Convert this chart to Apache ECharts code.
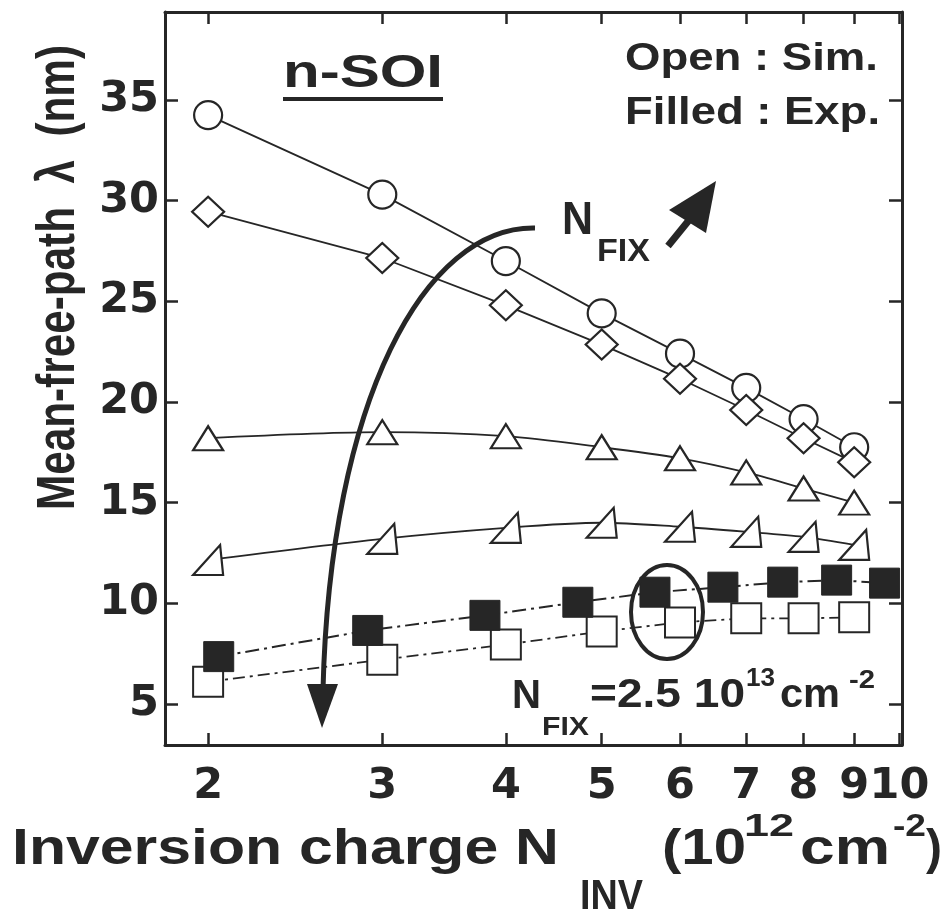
<!DOCTYPE html>
<html>
<head>
<meta charset="utf-8">
<script src="https://cdn.jsdelivr.net/npm/echarts@6/dist/echarts.min.js"></script>
<style>
  html, body { margin: 0; padding: 0; background: #fff; }
  #chart { width: 946px; height: 916px; }
</style>
</head>
<body>
<div id="chart"></div>
<script>
// Inversion charge N_INV (10^12 cm^-2) of the simulated points
const nInvSim = [2, 3, 4, 5, 6, 7, 8, 9];
// Simulated mean-free-path (nm), one array per fixed-charge level (open symbols)
const simCircle   = [34.25, 30.3, 27.0, 24.4, 22.4, 20.7, 19.15, 17.75];
const simDiamond  = [29.45, 27.15, 24.8, 22.85, 21.15, 19.6, 18.2, 17.0];
const simTriangle = [18.2, 18.5, 18.3, 17.75, 17.2, 16.5, 15.7, 15.0];
const simWedge    = [12.15, 13.2, 13.75, 14.0, 13.8, 13.55, 13.3, 12.9];
const simSquare   = [6.1, 7.2, 7.95, 8.6, 9.05, 9.25, 9.25, 9.3];
// Experimental points (filled squares)
const nInvExp   = [2.05, 2.9, 3.81, 4.73, 5.66, 6.63, 7.62, 8.64, 9.66];
const expSquare = [7.35, 8.65, 9.4, 10.05, 10.55, 10.8, 11.05, 11.15, 11.0];
// Axis ticks
const xTicks = [2, 3, 4, 5, 6, 7, 8, 9, 10];
const yTicks = [5, 10, 15, 20, 25, 30, 35];

const INK = '#262626';
const TEXT_FONT = '"Liberation Sans", Arial, sans-serif';
const TICK_FONT = '"DejaVu Sans", sans-serif';

const X_MIN = 1.809, X_MAX = 10.06;
const Y_MIN = 2.96, Y_MAX = 39.37;

const chart = echarts.init(document.getElementById('chart'), null, { renderer: 'canvas' });

function pairs(xs, ys) { return xs.map((x, i) => [x, ys[i]]); }

function xAxisDef(position, showLabel) {
  return {
    type: 'log', logBase: 10, position, min: X_MIN, max: X_MAX,
    axisLine: { show: true, lineStyle: { color: INK, width: 3 } },
    axisTick: { show: true, inside: true, length: 12, customValues: xTicks, lineStyle: { color: INK, width: 2.5 } },
    minorTick: { show: false },
    splitLine: { show: false },
    axisLabel: {
      show: showLabel, customValues: xTicks, margin: 20,
      fontFamily: TICK_FONT, fontWeight: 'bold', fontSize: 43, color: INK,
      formatter: v => String(Math.round(v))
    }
  };
}
function yAxisDef(position, showLabel) {
  return {
    type: 'value', position, min: Y_MIN, max: Y_MAX,
    axisLine: { show: true, lineStyle: { color: INK, width: 3 } },
    axisTick: { show: true, inside: true, length: 13, customValues: yTicks, lineStyle: { color: INK, width: 2.5 } },
    splitLine: { show: false },
    axisLabel: {
      show: showLabel, customValues: yTicks, margin: 6,
      fontFamily: TICK_FONT, fontWeight: 'bold', fontSize: 43, color: INK,
      formatter: v => String(Math.round(v))
    }
  };
}

function openSeries(name, ys, symbol, size, smooth) {
  return {
    name, type: 'line', data: pairs(nInvSim, ys), smooth: smooth || false,
    symbol, symbolSize: size, showAllSymbol: true,
    lineStyle: { color: INK, width: 1.8 },
    itemStyle: { color: '#fff', borderColor: INK, borderWidth: 2.2 },
    z: 3
  };
}

// Text runs: each piece is stretched to its measured width
const measure = document.createElement('canvas').getContext('2d');
function txt(str, x, baseline, size, width, extra) {
  const font = 'bold ' + size + 'px ' + TEXT_FONT;
  measure.font = font;
  const w = measure.measureText(str).width;
  const sx = width ? width / w : 1;
  return Object.assign({
    type: 'text', x, y: baseline - 0.35 * size, scaleX: sx, z: 100,
    style: { text: str, font, fill: INK, align: 'left', verticalAlign: 'middle', textAlign: 'left', textVerticalAlign: 'middle' }
  }, extra || {});
}
function vtxt(str, baselineX, startY, size, length, capScale) {
  const font = 'bold ' + size + 'px ' + TEXT_FONT;
  measure.font = font;
  const w = measure.measureText(str).width;
  return {
    type: 'text', x: baselineX - 0.35 * size * capScale, y: startY,
    rotation: Math.PI / 2, scaleX: length / w, scaleY: capScale, z: 100,
    style: { text: str, font, fill: INK, align: 'left', verticalAlign: 'middle', textAlign: 'left', textVerticalAlign: 'middle' }
  };
}

const graphics = [
  // panel label
  txt('n-SOI', 283, 90, 46, 160),
  { type: 'rect', shape: { x: 283, y: 97, width: 160, height: 4 }, style: { fill: INK }, z: 100 },
  // symbol key
  txt('Open : Sim.', 625, 73, 39, 253),
  txt('Filled : Exp.', 625, 127, 39, 255),
  // N_FIX trend label and arrow
  txt('N', 562, 237, 46, 31),
  txt('FIX', 597, 263, 31, 53),
  { type: 'line', shape: { x1: 668, y1: 246, x2: 694, y2: 214 }, style: { stroke: INK, lineWidth: 7 }, z: 100 },
  { type: 'polygon', shape: { points: [[716, 181], [669, 210], [706, 233]] }, style: { fill: INK }, z: 100 },
  // curved trend arrow
  { type: 'bezierCurve', shape: { x1: 535, y1: 228, cpx1: 425, cpy1: 226, cpx2: 330, cpy2: 400, x2: 323, y2: 690 },
    style: { stroke: INK, lineWidth: 5, fill: null }, z: 90 },
  { type: 'polygon', shape: { points: [[307, 684], [338, 684], [322, 728]] }, style: { fill: INK }, z: 90 },
  // highlighted experiment/simulation pair
  { type: 'ellipse', shape: { cx: 667, cy: 612, rx: 36, ry: 47 }, style: { fill: null, stroke: INK, lineWidth: 4 }, z: 100 },
  // fixed-charge value
  txt('N', 512, 711, 40, 29),
  txt('FIX', 542, 737, 26, 47),
  txt('=2.5 10', 590, 710, 40, 155),
  txt('13', 746, 688, 26, 29),
  txt('cm', 780, 710, 40, 60),
  txt('-2', 849, 690, 26, 26),
  // axis titles
  vtxt('Mean-free-path  \u03bb  (nm)', 78, 510, 44, 465, 1.2),
  txt('Inversion charge N', 12, 868, 50, 547),
  txt('INV', 580, 912, 42, 63),
  txt('(10', 662, 868, 50, 84),
  txt('12', 744, 838, 32, 50),
  txt('cm', 800, 868, 50, 90),
  txt('-2', 893, 838, 32, 33),
  txt(')', 926, 868, 50, 16)
];

chart.setOption({
  backgroundColor: '#fff',
  animation: false,
  grid: { left: 165, right: 44, top: 12, bottom: 171, containLabel: false },
  xAxis: [xAxisDef('bottom', true), xAxisDef('top', false)],
  yAxis: [yAxisDef('left', true), yAxisDef('right', false)],
  series: [
    openSeries('Sim. circle', simCircle, 'circle', 28),
    openSeries('Sim. diamond', simDiamond, 'diamond', [32, 30]),
    openSeries('Sim. triangle', simTriangle, 'triangle', [30, 24], 0.3),
    openSeries('Sim. wedge', simWedge, 'path://M0,30L30,30L27,0Z', [30, 30], 0.3),
    {
      name: 'Sim. square', type: 'line', data: pairs(nInvSim, simSquare),
      symbol: 'rect', symbolSize: 30,
      lineStyle: { color: INK, width: 1.8, type: [12, 5, 3, 5] },
      itemStyle: { color: '#fff', borderColor: INK, borderWidth: 2 },
      z: 3
    },
    {
      name: 'Exp. square', type: 'line', data: pairs(nInvExp, expSquare),
      symbol: 'rect', symbolSize: 30,
      lineStyle: { color: INK, width: 2, type: [14, 5, 3, 5] },
      itemStyle: { color: INK, borderColor: INK, borderWidth: 1 },
      z: 4
    }
  ],
  graphic: graphics
});
</script>
</body>
</html>
